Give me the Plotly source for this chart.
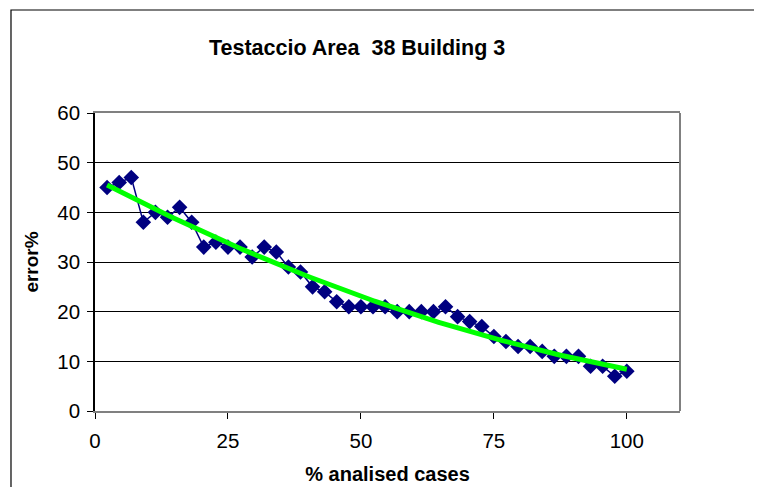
import numpy as np
import plotly.graph_objects as go

title_text = "Testaccio Area\u00a0\u00a038 Building 3"
x_title = "% analised cases"
y_title = "error%"

analised_pct = [2.27, 4.55, 6.82, 9.09, 11.36, 13.64, 15.91, 18.18, 20.45, 22.73,
                 25.0, 27.27, 29.55, 31.82, 34.09, 36.36, 38.64, 40.91, 43.18, 45.45,
                 47.73, 50.0, 52.27, 54.55, 56.82, 59.09, 61.36, 63.64, 65.91, 68.18,
                 70.45, 72.73, 75.0, 77.27, 79.55, 81.82, 84.09, 86.36, 88.64, 90.91,
                 93.18, 95.45, 97.73, 100.0]
error_pct = [45, 46, 47, 38, 40, 39, 41, 38, 33, 34,
             33, 33, 31, 33, 32, 29, 28, 25, 24, 22,
             21, 21, 21, 21, 20, 20, 20, 20, 21, 19,
             18, 17, 15, 14, 13, 13, 12, 11, 11, 11,
             9, 9, 7, 8]

x_ticks = [0, 25, 50, 75, 100]
y_ticks = [0, 10, 20, 30, 40, 50, 60]

# polynomial (2nd order) trend line, as in the spreadsheet chart
coef = np.polyfit(analised_pct, error_pct, 2)
trend_x = np.linspace(analised_pct[0], analised_pct[-1], 200)
trend_y = np.polyval(coef, trend_x)

FONT = "Liberation Sans, Arial, sans-serif"

fig = go.Figure()
fig.add_trace(go.Scatter(
    x=analised_pct, y=error_pct, mode="lines+markers",
    line=dict(color="#000080", width=1.5),
    marker=dict(symbol="diamond", size=12, color="#000080"),
    showlegend=False, hoverinfo="x+y"))
fig.add_trace(go.Scatter(
    x=trend_x, y=trend_y, mode="lines",
    line=dict(color="#00FF00", width=5),
    showlegend=False, hoverinfo="skip"))

fig.update_layout(
    width=754, height=479,
    margin=dict(l=87, r=82, t=105, b=76, autoexpand=False),
    paper_bgcolor="white", plot_bgcolor="white",
    font=dict(family=FONT, size=20.5, color="black"),
    title=dict(text="<b>" + title_text + "</b>", x=0.463, xanchor="center",
               y=0.9186, yanchor="middle", font=dict(size=21.5)),
    xaxis=dict(range=[0, 110], tickvals=x_ticks, ticks="outside", ticklen=6,
               tickcolor="black", showgrid=False, zeroline=False,
               showline=True, linecolor="#808080", linewidth=2, mirror=True,
               ticklabelstandoff=4, automargin=False,
               title=dict(text="<b>" + x_title + "</b>", standoff=16,
                          font=dict(size=20))),
    yaxis=dict(range=[0, 60], tickvals=y_ticks, ticks="outside", ticklen=6,
               tickcolor="black", showgrid=True, gridcolor="black", gridwidth=1,
               zeroline=False, showline=True, linecolor="black", linewidth=1.5,
               ticklabelstandoff=3, automargin=False,
               title=dict(text="<b>" + y_title + "</b>", standoff=14,
                          font=dict(size=19))),
    shapes=[
        dict(type="line", xref="paper", yref="paper", x0=1, x1=1, y0=0, y1=1,
             line=dict(color="#808080", width=2)),
        dict(type="rect", xref="paper", yref="paper", x0=-0.1436, x1=1.3,
             y0=-0.4, y1=1.3456, line=dict(color="black", width=1.2),
             fillcolor="rgba(0,0,0,0)", layer="below"),
    ],
)

fig.write_html("out.html")
